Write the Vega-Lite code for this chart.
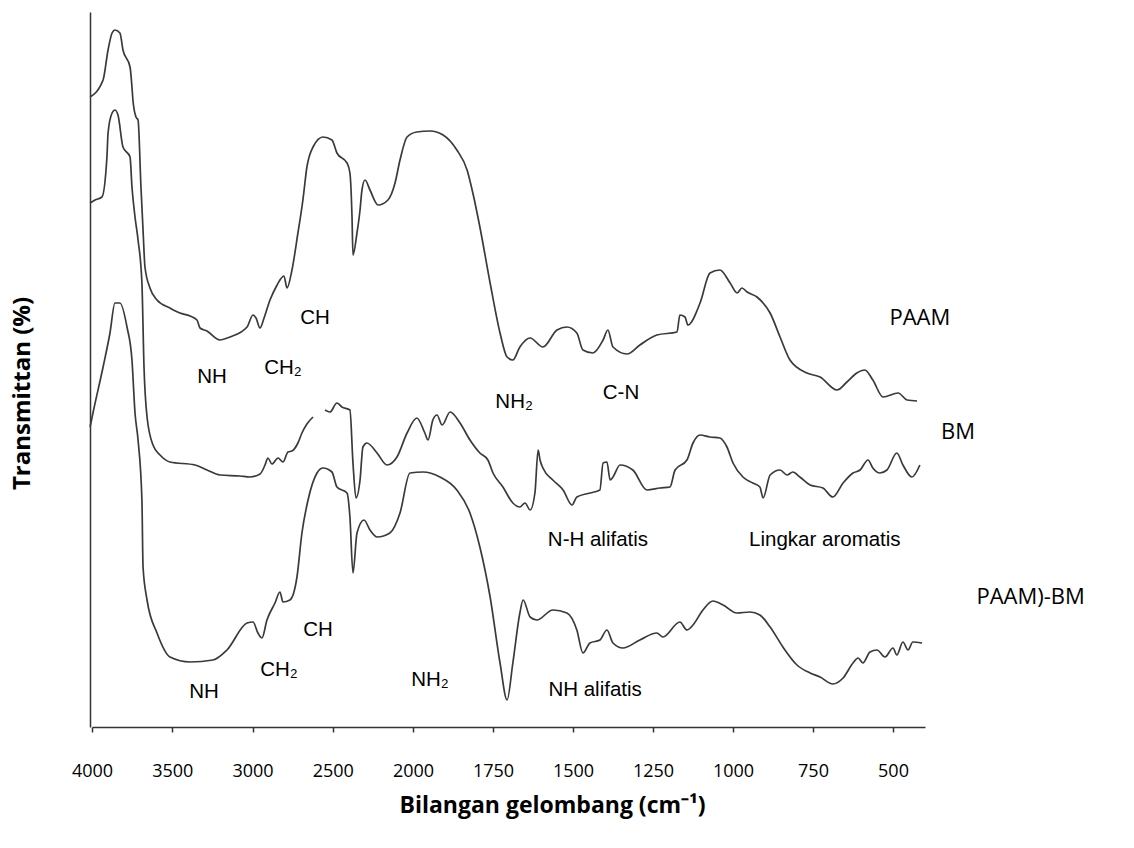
{
  "$schema": "https://vega.github.io/schema/vega-lite/v6.json",
  "autosize": "none",
  "width": 837,
  "height": 715,
  "padding": {"left": 90, "top": 12, "right": 207, "bottom": 121},
  "background": "white",
  "config": {"view": {"stroke": null}},
  "datasets": {
    "spectra": [
      {"series":"PAAM","wavenumber":4012,"transmittance":126},
      {"series":"PAAM","wavenumber":3931,"transmittance":129.4},
      {"series":"PAAM","wavenumber":3900,"transmittance":135.4},
      {"series":"PAAM","wavenumber":3875,"transmittance":138.8},
      {"series":"PAAM","wavenumber":3857,"transmittance":139.4},
      {"series":"PAAM","wavenumber":3826,"transmittance":138.8},
      {"series":"PAAM","wavenumber":3807,"transmittance":135.4},
      {"series":"PAAM","wavenumber":3763,"transmittance":132},
      {"series":"PAAM","wavenumber":3751,"transmittance":128},
      {"series":"PAAM","wavenumber":3745,"transmittance":125.4},
      {"series":"PAAM","wavenumber":3726,"transmittance":122},
      {"series":"PAAM","wavenumber":3713,"transmittance":121.4},
      {"series":"PAAM","wavenumber":3695,"transmittance":108},
      {"series":"PAAM","wavenumber":3682,"transmittance":99.4},
      {"series":"PAAM","wavenumber":3670,"transmittance":92},
      {"series":"PAAM","wavenumber":3639,"transmittance":87.8},
      {"series":"PAAM","wavenumber":3595,"transmittance":85.4},
      {"series":"PAAM","wavenumber":3514,"transmittance":83.8},
      {"series":"PAAM","wavenumber":3452,"transmittance":82.8},
      {"series":"PAAM","wavenumber":3389,"transmittance":82.2},
      {"series":"PAAM","wavenumber":3346,"transmittance":81.4},
      {"series":"PAAM","wavenumber":3327,"transmittance":79.8},
      {"series":"PAAM","wavenumber":3284,"transmittance":79.2},
      {"series":"PAAM","wavenumber":3203,"transmittance":77.4},
      {"series":"PAAM","wavenumber":3140,"transmittance":78},
      {"series":"PAAM","wavenumber":3034,"transmittance":80},
      {"series":"PAAM","wavenumber":2997,"transmittance":82.4},
      {"series":"PAAM","wavenumber":2978,"transmittance":81.8},
      {"series":"PAAM","wavenumber":2953,"transmittance":79.8},
      {"series":"PAAM","wavenumber":2928,"transmittance":81.8},
      {"series":"PAAM","wavenumber":2891,"transmittance":85.4},
      {"series":"PAAM","wavenumber":2847,"transmittance":88.4},
      {"series":"PAAM","wavenumber":2829,"transmittance":89.4},
      {"series":"PAAM","wavenumber":2804,"transmittance":90.2},
      {"series":"PAAM","wavenumber":2785,"transmittance":87.8},
      {"series":"PAAM","wavenumber":2754,"transmittance":91.4},
      {"series":"PAAM","wavenumber":2717,"transmittance":98.8},
      {"series":"PAAM","wavenumber":2692,"transmittance":104},
      {"series":"PAAM","wavenumber":2686,"transmittance":105.4},
      {"series":"PAAM","wavenumber":2661,"transmittance":112},
      {"series":"PAAM","wavenumber":2623,"transmittance":116},
      {"series":"PAAM","wavenumber":2561,"transmittance":118},
      {"series":"PAAM","wavenumber":2505,"transmittance":117.4},
      {"series":"PAAM","wavenumber":2474,"transmittance":114.8},
      {"series":"PAAM","wavenumber":2411,"transmittance":112.8},
      {"series":"PAAM","wavenumber":2393,"transmittance":110.8},
      {"series":"PAAM","wavenumber":2380,"transmittance":102},
      {"series":"PAAM","wavenumber":2374,"transmittance":94.4},
      {"series":"PAAM","wavenumber":2349,"transmittance":98.8},
      {"series":"PAAM","wavenumber":2330,"transmittance":103.4},
      {"series":"PAAM","wavenumber":2318,"transmittance":107.4},
      {"series":"PAAM","wavenumber":2299,"transmittance":109.4},
      {"series":"PAAM","wavenumber":2268,"transmittance":107.4},
      {"series":"PAAM","wavenumber":2218,"transmittance":104.4},
      {"series":"PAAM","wavenumber":2156,"transmittance":105.4},
      {"series":"PAAM","wavenumber":2112,"transmittance":108.8},
      {"series":"PAAM","wavenumber":2081,"transmittance":113.4},
      {"series":"PAAM","wavenumber":2037,"transmittance":118},
      {"series":"PAAM","wavenumber":1988,"transmittance":119},
      {"series":"PAAM","wavenumber":1947,"transmittance":119.2},
      {"series":"PAAM","wavenumber":1906,"transmittance":118.4},
      {"series":"PAAM","wavenumber":1863,"transmittance":115.4},
      {"series":"PAAM","wavenumber":1831,"transmittance":111.4},
      {"series":"PAAM","wavenumber":1813,"transmittance":106.8},
      {"series":"PAAM","wavenumber":1791,"transmittance":100},
      {"series":"PAAM","wavenumber":1759,"transmittance":88.8},
      {"series":"PAAM","wavenumber":1728,"transmittance":78.8},
      {"series":"PAAM","wavenumber":1706,"transmittance":74},
      {"series":"PAAM","wavenumber":1688,"transmittance":73.4},
      {"series":"PAAM","wavenumber":1666,"transmittance":76},
      {"series":"PAAM","wavenumber":1634,"transmittance":77.8},
      {"series":"PAAM","wavenumber":1594,"transmittance":76},
      {"series":"PAAM","wavenumber":1550,"transmittance":79.4},
      {"series":"PAAM","wavenumber":1519,"transmittance":80},
      {"series":"PAAM","wavenumber":1488,"transmittance":78.8},
      {"series":"PAAM","wavenumber":1469,"transmittance":75.4},
      {"series":"PAAM","wavenumber":1438,"transmittance":74.8},
      {"series":"PAAM","wavenumber":1406,"transmittance":77.4},
      {"series":"PAAM","wavenumber":1391,"transmittance":79.4},
      {"series":"PAAM","wavenumber":1375,"transmittance":76},
      {"series":"PAAM","wavenumber":1331,"transmittance":74.6},
      {"series":"PAAM","wavenumber":1291,"transmittance":76.4},
      {"series":"PAAM","wavenumber":1238,"transmittance":78.4},
      {"series":"PAAM","wavenumber":1175,"transmittance":79},
      {"series":"PAAM","wavenumber":1166,"transmittance":82.4},
      {"series":"PAAM","wavenumber":1150,"transmittance":82},
      {"series":"PAAM","wavenumber":1141,"transmittance":80.4},
      {"series":"PAAM","wavenumber":1103,"transmittance":84.8},
      {"series":"PAAM","wavenumber":1072,"transmittance":90.8},
      {"series":"PAAM","wavenumber":1041,"transmittance":91.4},
      {"series":"PAAM","wavenumber":1009,"transmittance":88.8},
      {"series":"PAAM","wavenumber":987,"transmittance":86.8},
      {"series":"PAAM","wavenumber":972,"transmittance":87.8},
      {"series":"PAAM","wavenumber":956,"transmittance":87},
      {"series":"PAAM","wavenumber":925,"transmittance":86},
      {"series":"PAAM","wavenumber":884,"transmittance":82.8},
      {"series":"PAAM","wavenumber":853,"transmittance":78},
      {"series":"PAAM","wavenumber":822,"transmittance":73.4},
      {"series":"PAAM","wavenumber":769,"transmittance":70.8},
      {"series":"PAAM","wavenumber":728,"transmittance":70},
      {"series":"PAAM","wavenumber":675,"transmittance":67.4},
      {"series":"PAAM","wavenumber":644,"transmittance":69},
      {"series":"PAAM","wavenumber":613,"transmittance":70.8},
      {"series":"PAAM","wavenumber":588,"transmittance":71.4},
      {"series":"PAAM","wavenumber":563,"transmittance":69.4},
      {"series":"PAAM","wavenumber":531,"transmittance":66},
      {"series":"PAAM","wavenumber":484,"transmittance":66.8},
      {"series":"PAAM","wavenumber":456,"transmittance":65.4},
      {"series":"PAAM","wavenumber":425,"transmittance":65.2},

      {"series":"BM","wavenumber":4012,"transmittance":104.8},
      {"series":"BM","wavenumber":3981,"transmittance":105.4},
      {"series":"BM","wavenumber":3938,"transmittance":106},
      {"series":"BM","wavenumber":3907,"transmittance":114},
      {"series":"BM","wavenumber":3900,"transmittance":118.8},
      {"series":"BM","wavenumber":3875,"transmittance":122.8},
      {"series":"BM","wavenumber":3857,"transmittance":123.4},
      {"series":"BM","wavenumber":3838,"transmittance":122.4},
      {"series":"BM","wavenumber":3807,"transmittance":116},
      {"series":"BM","wavenumber":3763,"transmittance":114},
      {"series":"BM","wavenumber":3751,"transmittance":108},
      {"series":"BM","wavenumber":3732,"transmittance":102},
      {"series":"BM","wavenumber":3713,"transmittance":97.4},
      {"series":"BM","wavenumber":3689,"transmittance":88.8},
      {"series":"BM","wavenumber":3676,"transmittance":72},
      {"series":"BM","wavenumber":3657,"transmittance":62},
      {"series":"BM","wavenumber":3620,"transmittance":56.4},
      {"series":"BM","wavenumber":3576,"transmittance":54.4},
      {"series":"BM","wavenumber":3514,"transmittance":53},
      {"series":"BM","wavenumber":3358,"transmittance":52.4},
      {"series":"BM","wavenumber":3284,"transmittance":51.4},
      {"series":"BM","wavenumber":3203,"transmittance":50.4},
      {"series":"BM","wavenumber":3078,"transmittance":50.2},
      {"series":"BM","wavenumber":3016,"transmittance":50},
      {"series":"BM","wavenumber":2953,"transmittance":50.6},
      {"series":"BM","wavenumber":2922,"transmittance":52.4},
      {"series":"BM","wavenumber":2904,"transmittance":53.8},
      {"series":"BM","wavenumber":2879,"transmittance":52.6},
      {"series":"BM","wavenumber":2841,"transmittance":53.8},
      {"series":"BM","wavenumber":2810,"transmittance":53},
      {"series":"BM","wavenumber":2779,"transmittance":55},
      {"series":"BM","wavenumber":2754,"transmittance":55.2},
      {"series":"BM","wavenumber":2717,"transmittance":56.8},
      {"series":"BM","wavenumber":2692,"transmittance":58.8},
      {"series":"BM","wavenumber":2661,"transmittance":60.6},
      {"series":"BM","wavenumber":2623,"transmittance":62},
      {"series":"BM","wavenumber":2590,"transmittance":null},
      {"series":"BM","wavenumber":2548,"transmittance":63.4},
      {"series":"BM","wavenumber":2517,"transmittance":63},
      {"series":"BM","wavenumber":2474,"transmittance":64.8},
      {"series":"BM","wavenumber":2443,"transmittance":64},
      {"series":"BM","wavenumber":2393,"transmittance":63.4},
      {"series":"BM","wavenumber":2374,"transmittance":52.8},
      {"series":"BM","wavenumber":2355,"transmittance":45.8},
      {"series":"BM","wavenumber":2330,"transmittance":49.4},
      {"series":"BM","wavenumber":2312,"transmittance":56},
      {"series":"BM","wavenumber":2287,"transmittance":56.8},
      {"series":"BM","wavenumber":2224,"transmittance":54.8},
      {"series":"BM","wavenumber":2162,"transmittance":52.4},
      {"series":"BM","wavenumber":2100,"transmittance":54},
      {"series":"BM","wavenumber":2037,"transmittance":58.8},
      {"series":"BM","wavenumber":1988,"transmittance":61.8},
      {"series":"BM","wavenumber":1963,"transmittance":58.8},
      {"series":"BM","wavenumber":1953,"transmittance":57.4},
      {"series":"BM","wavenumber":1938,"transmittance":61.4},
      {"series":"BM","wavenumber":1925,"transmittance":62.4},
      {"series":"BM","wavenumber":1909,"transmittance":60.4},
      {"series":"BM","wavenumber":1884,"transmittance":63},
      {"series":"BM","wavenumber":1853,"transmittance":60.8},
      {"series":"BM","wavenumber":1822,"transmittance":57.4},
      {"series":"BM","wavenumber":1791,"transmittance":54.8},
      {"series":"BM","wavenumber":1766,"transmittance":53.4},
      {"series":"BM","wavenumber":1750,"transmittance":50.8},
      {"series":"BM","wavenumber":1719,"transmittance":48},
      {"series":"BM","wavenumber":1688,"transmittance":44.8},
      {"series":"BM","wavenumber":1666,"transmittance":44},
      {"series":"BM","wavenumber":1650,"transmittance":44.8},
      {"series":"BM","wavenumber":1634,"transmittance":43.4},
      {"series":"BM","wavenumber":1619,"transmittance":46.8},
      {"series":"BM","wavenumber":1609,"transmittance":55.4},
      {"series":"BM","wavenumber":1603,"transmittance":53.4},
      {"series":"BM","wavenumber":1594,"transmittance":51.8},
      {"series":"BM","wavenumber":1563,"transmittance":49.4},
      {"series":"BM","wavenumber":1531,"transmittance":47.4},
      {"series":"BM","wavenumber":1503,"transmittance":44.4},
      {"series":"BM","wavenumber":1488,"transmittance":46},
      {"series":"BM","wavenumber":1447,"transmittance":46.8},
      {"series":"BM","wavenumber":1416,"transmittance":47.4},
      {"series":"BM","wavenumber":1406,"transmittance":52.8},
      {"series":"BM","wavenumber":1394,"transmittance":53},
      {"series":"BM","wavenumber":1384,"transmittance":49.4},
      {"series":"BM","wavenumber":1375,"transmittance":50},
      {"series":"BM","wavenumber":1353,"transmittance":52.4},
      {"series":"BM","wavenumber":1313,"transmittance":51.4},
      {"series":"BM","wavenumber":1269,"transmittance":47.4},
      {"series":"BM","wavenumber":1228,"transmittance":47.8},
      {"series":"BM","wavenumber":1197,"transmittance":48},
      {"series":"BM","wavenumber":1181,"transmittance":51.4},
      {"series":"BM","wavenumber":1144,"transmittance":53.4},
      {"series":"BM","wavenumber":1125,"transmittance":56.8},
      {"series":"BM","wavenumber":1103,"transmittance":58.4},
      {"series":"BM","wavenumber":1072,"transmittance":58},
      {"series":"BM","wavenumber":1041,"transmittance":57.8},
      {"series":"BM","wavenumber":1019,"transmittance":56},
      {"series":"BM","wavenumber":1000,"transmittance":52.8},
      {"series":"BM","wavenumber":969,"transmittance":50},
      {"series":"BM","wavenumber":938,"transmittance":48.8},
      {"series":"BM","wavenumber":916,"transmittance":48},
      {"series":"BM","wavenumber":906,"transmittance":45.8},
      {"series":"BM","wavenumber":884,"transmittance":50.4},
      {"series":"BM","wavenumber":853,"transmittance":51.4},
      {"series":"BM","wavenumber":831,"transmittance":50.4},
      {"series":"BM","wavenumber":813,"transmittance":51},
      {"series":"BM","wavenumber":791,"transmittance":50},
      {"series":"BM","wavenumber":759,"transmittance":48.4},
      {"series":"BM","wavenumber":719,"transmittance":47.8},
      {"series":"BM","wavenumber":688,"transmittance":46},
      {"series":"BM","wavenumber":656,"transmittance":48.8},
      {"series":"BM","wavenumber":625,"transmittance":50.8},
      {"series":"BM","wavenumber":603,"transmittance":51.4},
      {"series":"BM","wavenumber":578,"transmittance":53.4},
      {"series":"BM","wavenumber":563,"transmittance":51.8},
      {"series":"BM","wavenumber":541,"transmittance":50.8},
      {"series":"BM","wavenumber":519,"transmittance":51.4},
      {"series":"BM","wavenumber":488,"transmittance":54.8},
      {"series":"BM","wavenumber":469,"transmittance":52.4},
      {"series":"BM","wavenumber":441,"transmittance":50},
      {"series":"BM","wavenumber":416,"transmittance":52.4},

      {"series":"PAAM)-BM","wavenumber":4012,"transmittance":60},
      {"series":"PAAM)-BM","wavenumber":3994,"transmittance":62.8},
      {"series":"PAAM)-BM","wavenumber":3931,"transmittance":72},
      {"series":"PAAM)-BM","wavenumber":3888,"transmittance":78.8},
      {"series":"PAAM)-BM","wavenumber":3857,"transmittance":84.8},
      {"series":"PAAM)-BM","wavenumber":3826,"transmittance":84.8},
      {"series":"PAAM)-BM","wavenumber":3782,"transmittance":80},
      {"series":"PAAM)-BM","wavenumber":3751,"transmittance":73.4},
      {"series":"PAAM)-BM","wavenumber":3732,"transmittance":62.8},
      {"series":"PAAM)-BM","wavenumber":3713,"transmittance":57.4},
      {"series":"PAAM)-BM","wavenumber":3689,"transmittance":45.4},
      {"series":"PAAM)-BM","wavenumber":3682,"transmittance":32},
      {"series":"PAAM)-BM","wavenumber":3657,"transmittance":25.4},
      {"series":"PAAM)-BM","wavenumber":3595,"transmittance":18.8},
      {"series":"PAAM)-BM","wavenumber":3514,"transmittance":14},
      {"series":"PAAM)-BM","wavenumber":3389,"transmittance":13},
      {"series":"PAAM)-BM","wavenumber":3246,"transmittance":13.4},
      {"series":"PAAM)-BM","wavenumber":3159,"transmittance":15.4},
      {"series":"PAAM)-BM","wavenumber":3034,"transmittance":20.8},
      {"series":"PAAM)-BM","wavenumber":2997,"transmittance":21},
      {"series":"PAAM)-BM","wavenumber":2966,"transmittance":18.8},
      {"series":"PAAM)-BM","wavenumber":2941,"transmittance":17.8},
      {"series":"PAAM)-BM","wavenumber":2910,"transmittance":21.4},
      {"series":"PAAM)-BM","wavenumber":2860,"transmittance":24.8},
      {"series":"PAAM)-BM","wavenumber":2829,"transmittance":27},
      {"series":"PAAM)-BM","wavenumber":2810,"transmittance":25},
      {"series":"PAAM)-BM","wavenumber":2767,"transmittance":25.4},
      {"series":"PAAM)-BM","wavenumber":2723,"transmittance":30},
      {"series":"PAAM)-BM","wavenumber":2692,"transmittance":38.8},
      {"series":"PAAM)-BM","wavenumber":2654,"transmittance":45.4},
      {"series":"PAAM)-BM","wavenumber":2598,"transmittance":50.8},
      {"series":"PAAM)-BM","wavenumber":2561,"transmittance":51.8},
      {"series":"PAAM)-BM","wavenumber":2505,"transmittance":51},
      {"series":"PAAM)-BM","wavenumber":2474,"transmittance":48},
      {"series":"PAAM)-BM","wavenumber":2411,"transmittance":46.8},
      {"series":"PAAM)-BM","wavenumber":2393,"transmittance":42},
      {"series":"PAAM)-BM","wavenumber":2374,"transmittance":30.8},
      {"series":"PAAM)-BM","wavenumber":2349,"transmittance":38.8},
      {"series":"PAAM)-BM","wavenumber":2305,"transmittance":41.4},
      {"series":"PAAM)-BM","wavenumber":2268,"transmittance":39.4},
      {"series":"PAAM)-BM","wavenumber":2224,"transmittance":38},
      {"series":"PAAM)-BM","wavenumber":2144,"transmittance":38.8},
      {"series":"PAAM)-BM","wavenumber":2081,"transmittance":42.8},
      {"series":"PAAM)-BM","wavenumber":2019,"transmittance":50.8},
      {"series":"PAAM)-BM","wavenumber":1969,"transmittance":51},
      {"series":"PAAM)-BM","wavenumber":1916,"transmittance":50},
      {"series":"PAAM)-BM","wavenumber":1863,"transmittance":47.4},
      {"series":"PAAM)-BM","wavenumber":1822,"transmittance":42.8},
      {"series":"PAAM)-BM","wavenumber":1791,"transmittance":36},
      {"series":"PAAM)-BM","wavenumber":1759,"transmittance":26},
      {"series":"PAAM)-BM","wavenumber":1728,"transmittance":12.8},
      {"series":"PAAM)-BM","wavenumber":1706,"transmittance":5.4},
      {"series":"PAAM)-BM","wavenumber":1688,"transmittance":12.8},
      {"series":"PAAM)-BM","wavenumber":1666,"transmittance":22.8},
      {"series":"PAAM)-BM","wavenumber":1656,"transmittance":25.4},
      {"series":"PAAM)-BM","wavenumber":1634,"transmittance":22},
      {"series":"PAAM)-BM","wavenumber":1613,"transmittance":21.4},
      {"series":"PAAM)-BM","wavenumber":1563,"transmittance":23.4},
      {"series":"PAAM)-BM","wavenumber":1519,"transmittance":22.8},
      {"series":"PAAM)-BM","wavenumber":1488,"transmittance":19.4},
      {"series":"PAAM)-BM","wavenumber":1469,"transmittance":14.8},
      {"series":"PAAM)-BM","wavenumber":1447,"transmittance":16.8},
      {"series":"PAAM)-BM","wavenumber":1416,"transmittance":17.4},
      {"series":"PAAM)-BM","wavenumber":1394,"transmittance":19.4},
      {"series":"PAAM)-BM","wavenumber":1375,"transmittance":16.8},
      {"series":"PAAM)-BM","wavenumber":1344,"transmittance":15.8},
      {"series":"PAAM)-BM","wavenumber":1291,"transmittance":17.4},
      {"series":"PAAM)-BM","wavenumber":1238,"transmittance":18.8},
      {"series":"PAAM)-BM","wavenumber":1219,"transmittance":18},
      {"series":"PAAM)-BM","wavenumber":1166,"transmittance":21},
      {"series":"PAAM)-BM","wavenumber":1144,"transmittance":19.4},
      {"series":"PAAM)-BM","wavenumber":1125,"transmittance":20.4},
      {"series":"PAAM)-BM","wavenumber":1094,"transmittance":23.4},
      {"series":"PAAM)-BM","wavenumber":1063,"transmittance":25.2},
      {"series":"PAAM)-BM","wavenumber":1031,"transmittance":24.4},
      {"series":"PAAM)-BM","wavenumber":988,"transmittance":22.8},
      {"series":"PAAM)-BM","wavenumber":947,"transmittance":23},
      {"series":"PAAM)-BM","wavenumber":916,"transmittance":22.4},
      {"series":"PAAM)-BM","wavenumber":884,"transmittance":20},
      {"series":"PAAM)-BM","wavenumber":844,"transmittance":16},
      {"series":"PAAM)-BM","wavenumber":800,"transmittance":12.4},
      {"series":"PAAM)-BM","wavenumber":759,"transmittance":10.8},
      {"series":"PAAM)-BM","wavenumber":728,"transmittance":10},
      {"series":"PAAM)-BM","wavenumber":688,"transmittance":8.6},
      {"series":"PAAM)-BM","wavenumber":656,"transmittance":9.8},
      {"series":"PAAM)-BM","wavenumber":625,"transmittance":12.8},
      {"series":"PAAM)-BM","wavenumber":609,"transmittance":13.8},
      {"series":"PAAM)-BM","wavenumber":594,"transmittance":12.8},
      {"series":"PAAM)-BM","wavenumber":572,"transmittance":15},
      {"series":"PAAM)-BM","wavenumber":550,"transmittance":15.4},
      {"series":"PAAM)-BM","wavenumber":525,"transmittance":14},
      {"series":"PAAM)-BM","wavenumber":500,"transmittance":15.8},
      {"series":"PAAM)-BM","wavenumber":488,"transmittance":14.4},
      {"series":"PAAM)-BM","wavenumber":469,"transmittance":17},
      {"series":"PAAM)-BM","wavenumber":453,"transmittance":15.4},
      {"series":"PAAM)-BM","wavenumber":438,"transmittance":17},
      {"series":"PAAM)-BM","wavenumber":409,"transmittance":16.8}
    ],
    "notes": [
      {"label":"NH","wavenumber":3252,"transmittance":70},
      {"label":"CH₂","wavenumber":2810,"transmittance":71.8},
      {"label":"CH","wavenumber":2611,"transmittance":81.8},
      {"label":"NH₂","wavenumber":1684,"transmittance":65},
      {"label":"C-N","wavenumber":1350,"transmittance":66.8},
      {"label":"N-H  alifatis","wavenumber":1422,"transmittance":37.4},
      {"label":"Lingkar aromatis","wavenumber":713,"transmittance":37.4},
      {"label":"NH","wavenumber":3302,"transmittance":7},
      {"label":"CH₂","wavenumber":2835,"transmittance":11.4},
      {"label":"CH","wavenumber":2592,"transmittance":19.4},
      {"label":"NH₂","wavenumber":1947,"transmittance":9.4},
      {"label":"NH alifatis","wavenumber":1431,"transmittance":7.4}
    ],
    "names": [
      {"label":"PAAM","wavenumber":416,"transmittance":81.8},
      {"label":"BM","wavenumber":297,"transmittance":59},
      {"label":"PAAM)-BM","wavenumber":70,"transmittance":26}
    ]
  },
  "layer": [
    {
      "data": {"name": "spectra"},
      "mark": {"type": "line", "color": "#3a3a3a", "strokeWidth": 1.7, "interpolate": "monotone", "clip": false, "invalid": "break-paths-show-domains"},
      "encoding": {
        "x": {
          "field": "wavenumber", "type": "quantitative",
          "scale": {"domain": [4000, 2000, 400], "range": [2, 323, 835], "nice": false, "zero": false},
          "axis": {
            "values": [4000, 3500, 3000, 2500, 2000, 1750, 1500, 1250, 1000, 750, 500],
            "format": "d",
            "title": "Bilangan gelombang (cm⁻¹)",
            "titleFont": "Open Sans", "titleFontWeight": "bold", "titleFontSize": 23, "titleColor": "#000",
            "titleX": 462, "titleY": 78, "titleAlign": "center", "titleBaseline": "middle", "titleAnchor": null,
            "labelFont": "Open Sans", "labelFontSize": 18, "labelColor": "#000", "labelPadding": 30, "labelDx": 8,
            "labelFlush": false, "labelOverlap": false,
            "tickSize": 5, "tickColor": "#333", "tickWidth": 1.5,
            "domainColor": "#333", "domainWidth": 1.5, "grid": false
          }
        },
        "y": {
          "field": "transmittance", "type": "quantitative",
          "scale": {"domain": [0, 143], "nice": false, "zero": false},
          "axis": {
            "title": "Transmittan (%)",
            "titleFont": "Open Sans", "titleFontWeight": "bold", "titleFontSize": 24, "titleColor": "#000",
            "titleX": -68, "titleY": 381, "titleAngle": -90, "titleAlign": "center", "titleBaseline": "middle", "titleAnchor": null,
            "labels": false, "ticks": false, "grid": false,
            "domainColor": "#333", "domainWidth": 1.5
          }
        },
        "detail": {"field": "series", "type": "nominal"}
      }
    },
    {
      "data": {"name": "notes"},
      "mark": {"type": "text", "font": "Liberation Sans", "fontSize": 20.5, "color": "#000", "align": "center", "baseline": "middle", "clip": false},
      "encoding": {
        "x": {"field": "wavenumber", "type": "quantitative"},
        "y": {"field": "transmittance", "type": "quantitative"},
        "text": {"field": "label"}
      }
    },
    {
      "data": {"name": "names"},
      "mark": {"type": "text", "font": "Open Sans", "fontSize": 22, "color": "#000", "align": "center", "baseline": "middle", "clip": false},
      "encoding": {
        "x": {"field": "wavenumber", "type": "quantitative"},
        "y": {"field": "transmittance", "type": "quantitative"},
        "text": {"field": "label"}
      }
    }
  ]
}
